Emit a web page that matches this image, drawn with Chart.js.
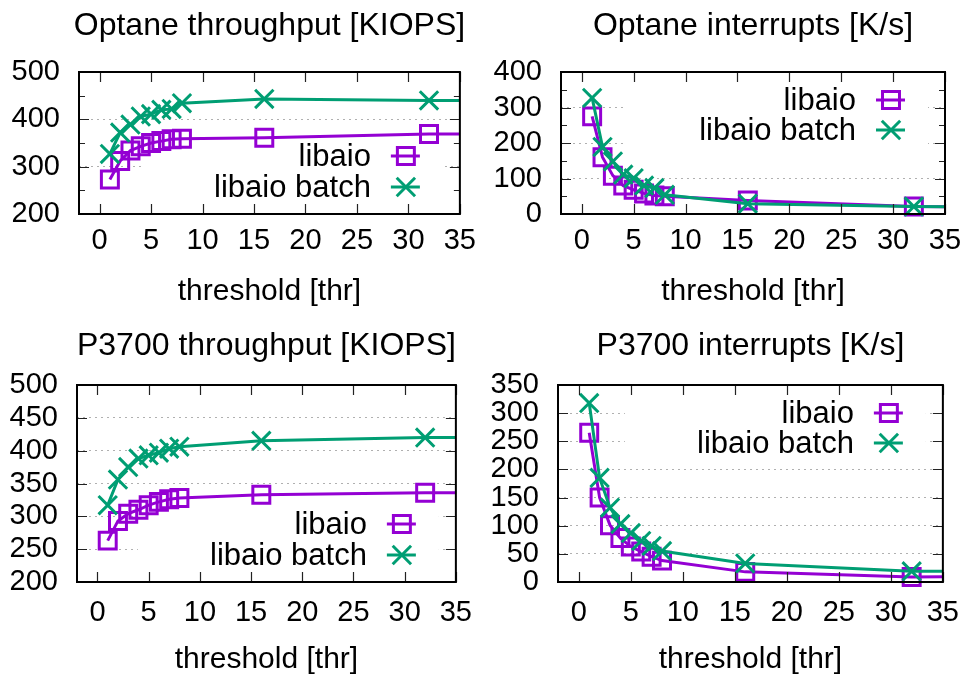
<!DOCTYPE html>
<html>
<head>
<meta charset="utf-8">
<script src="https://cdn.jsdelivr.net/npm/chart.js@4.4.1/dist/chart.umd.min.js"></script>
<style>
  html, body { margin: 0; padding: 0; background: #fff; overflow: hidden; }
  canvas { position: absolute; }
</style>
</head>
<body>
<canvas id="c1" width="486" height="320" style="left:0;top:0"></canvas>
<canvas id="c2" width="487" height="320" style="left:486px;top:0"></canvas>
<canvas id="c3" width="486" height="356" style="left:0;top:320px"></canvas>
<canvas id="c4" width="487" height="356" style="left:486px;top:320px"></canvas>
<script>
var thresholds = [1, 2, 3, 4, 5, 6, 7, 8, 16, 32, 64];
var seriesNames = ["libaio", "libaio batch"];

var optaneTputLibaio = [273, 312, 334, 343, 350, 354, 358, 359, 361, 369, 369];
var optaneTputBatch = [327, 372, 389, 406, 411, 420, 422, 434, 443, 440, 440];
var optaneIntLibaio = [275, 160, 108, 80, 68, 58, 52, 50, 38, 21, 18];
var optaneIntBatch = [327, 189, 148, 111, 101, 80, 73, 54, 29, 21, 18];
var p3700TputLibaio = [263, 293, 304, 310, 317, 322, 326, 328, 333, 336, 337];
var p3700TputBatch = [317, 356, 375, 388, 393, 397, 403, 406, 415, 420, 419];
var p3700IntLibaio = [265, 150, 101, 78, 63, 54, 45, 38, 18, 9, 11];
var p3700IntBatch = [318, 185, 132, 103, 87, 73, 64, 55, 33, 19, 18];

var purple = "#9400d3";
var green = "#009e73";
var fontFam = "'Liberation Sans', Arial, sans-serif";

// title centred over the plot area, like gnuplot does it
var titlePlugin = {
  id: "plotTitle",
  afterDraw(chart, args, opts) {
    var ctx = chart.ctx, a = chart.chartArea;
    ctx.save();
    ctx.fillStyle = "#000";
    ctx.font = "32px " + fontFam;
    ctx.textAlign = "center";
    ctx.textBaseline = "middle";
    ctx.fillText(opts.text, (a.left + a.right) / 2, opts.y);
    ctx.restore();
  }
};

// gnuplot style frame: border plus inward ticks on all four sides
var framePlugin = {
  id: "frame",
  afterDatasetsDraw(chart, args, opts) {
    var ctx = chart.ctx, a = chart.chartArea;
    var xs = chart.scales.x, ys = chart.scales.y;
    ctx.save();
    ctx.strokeStyle = "#222";
    ctx.lineWidth = 1.2;
    ctx.beginPath();
    xs.ticks.forEach(t => {
      var px = Math.round(xs.getPixelForValue(t.value)) + 0.5;
      ctx.moveTo(px, a.bottom); ctx.lineTo(px, a.bottom - 10);
      ctx.moveTo(px, a.top); ctx.lineTo(px, a.top + 10);
    });
    ys.ticks.forEach((t, i) => {
      var py = Math.round(ys.getPixelForValue(t.value)) + 0.5;
      ctx.moveTo(a.left, py); ctx.lineTo(a.left + 10, py);
      ctx.moveTo(a.right, py); ctx.lineTo(a.right - 10, py);
      if (opts.minor && i > 0) {
        var pm = Math.round(ys.getPixelForValue((t.value + ys.ticks[i - 1].value) / 2)) + 0.5;
        ctx.moveTo(a.left, pm); ctx.lineTo(a.left + 6, pm);
        ctx.moveTo(a.right, pm); ctx.lineTo(a.right - 6, pm);
      }
    });
    ctx.stroke();
    ctx.strokeStyle = "#000";
    ctx.lineWidth = 2;
    ctx.strokeRect(a.left, a.top, a.right - a.left, a.bottom - a.top);
    ctx.restore();
  }
};

function keyRows(chart, opts) {
  var a = chart.chartArea;
  if (opts.pos === "top") return [a.top + 28, a.top + 58];
  return [a.bottom - 58, a.bottom - 27];
}

function drawMarker(ctx, style, r, x, y) {
  ctx.beginPath();
  if (style === "rect") {
    var h = r / Math.SQRT2;
    ctx.rect(x - h, y - h, 2 * h, 2 * h);
  } else {
    var o = r * Math.SQRT1_2;
    ctx.moveTo(x - o, y - o); ctx.lineTo(x + o, y + o);
    ctx.moveTo(x + o, y - o); ctx.lineTo(x - o, y + o);
  }
  ctx.stroke();
}

// key box inside the plot, text on the left and sample on the right
var keyPlugin = {
  id: "key",
  beforeDatasetsDraw(chart, args, opts) {
    var a = chart.chartArea, rows = keyRows(chart, opts);
    var ctx = chart.ctx;
    ctx.save();
    ctx.fillStyle = "#fff";
    ctx.fillRect(a.right - 318, rows[0] - 16, 301, rows[1] - rows[0] + 32);
    ctx.restore();
  },
  afterDatasetsDraw(chart, args, opts) {
    var a = chart.chartArea, rows = keyRows(chart, opts);
    var ctx = chart.ctx;
    ctx.save();
    chart.data.datasets.forEach((ds, i) => {
      var y = rows[i];
      ctx.fillStyle = "#000";
      ctx.font = "31px " + fontFam;
      ctx.textAlign = "right";
      ctx.textBaseline = "middle";
      ctx.fillText(ds.label, a.right - 89, y + 1);
      ctx.strokeStyle = ds.borderColor;
      ctx.lineWidth = 3;
      ctx.beginPath();
      ctx.moveTo(a.right - 69, y); ctx.lineTo(a.right - 40, y);
      ctx.stroke();
      drawMarker(ctx, ds.pointStyle, ds.pointRadius, a.right - 54, y);
    });
    ctx.restore();
  }
};

function toPoints(vals) {
  return thresholds.map((t, i) => ({ x: t, y: vals[i] }));
}

function makeChart(id, p) {
  return new Chart(document.getElementById(id), {
    type: "scatter",
    data: {
      datasets: [
        {
          label: seriesNames[0], data: toPoints(p.a), showLine: true,
          borderColor: purple, backgroundColor: "rgba(0,0,0,0)", borderWidth: 3,
          pointStyle: "rect", pointRadius: 12, pointBorderWidth: 3,
          pointBorderColor: purple, pointBackgroundColor: "rgba(0,0,0,0)",
          order: 1, clip: { left: false, top: false, right: 0, bottom: false }
        },
        {
          label: seriesNames[1], data: toPoints(p.b), showLine: true,
          borderColor: green, backgroundColor: "rgba(0,0,0,0)", borderWidth: 3,
          pointStyle: "crossRot", pointRadius: 13, pointBorderWidth: 3,
          pointBorderColor: green, pointBackgroundColor: "rgba(0,0,0,0)",
          order: 0, clip: { left: false, top: false, right: 0, bottom: false }
        }
      ]
    },
    options: {
      responsive: false,
      animation: false,
      events: [],
      layout: { padding: { left: 0, right: p.padR, top: p.plotTop, bottom: 0 } },
      plugins: {
        legend: { display: false },
        tooltip: { enabled: false },
        title: { display: false },
        plotTitle: { text: p.title, y: p.titleY },
        frame: { minor: p.minor },
        key: { pos: p.keyPos }
      },
      scales: {
        x: {
          type: "linear", min: -2, max: 35,
          afterFit: s => { s.height = p.xH; },
          ticks: {
            stepSize: 5, includeBounds: false, color: "#000", padding: p.tickPad,
            font: { family: fontFam, size: 29, lineHeight: 1.2 }, maxRotation: 0
          },
          grid: { display: false, drawTicks: false },
          border: { display: false },
          title: {
            display: true, text: "threshold [thr]", color: "#000",
            font: { family: fontFam, size: 30, lineHeight: 1.1 },
            padding: { top: 0, bottom: p.xTitlePad }
          }
        },
        y: {
          min: p.yMin, max: p.yMax,
          afterFit: s => { s.width = p.yW; },
          ticks: {
            stepSize: p.yStep, color: "#000", padding: 19, autoSkip: false,
            font: { family: fontFam, size: 29, lineHeight: 0.6 }
          },
          grid: {
            drawTicks: false, lineWidth: 1,
            color: c => (c.tick && (c.tick.value === p.yMin || c.tick.value === p.yMax)) ? "rgba(0,0,0,0)" : "#b0b0b0"
          },
          border: { display: false, dash: [2, 4] }
        }
      }
    },
    plugins: [framePlugin, keyPlugin, titlePlugin]
  });
}

makeChart("c1", {
  title: "Optane throughput [KIOPS]", a: optaneTputLibaio, b: optaneTputBatch,
  yMin: 200, yMax: 500, yStep: 100, minor: true, keyPos: "bottom",
  yW: 79, padR: 23, plotTop: 72, titleY: 26, xH: 106, tickPad: 10, xTitlePad: 12
});
makeChart("c2", {
  title: "Optane interrupts [K/s]", a: optaneIntLibaio, b: optaneIntBatch,
  yMin: 0, yMax: 400, yStep: 100, minor: true, keyPos: "top",
  yW: 75, padR: 28, plotTop: 72, titleY: 26, xH: 106, tickPad: 10, xTitlePad: 12
});
makeChart("c3", {
  title: "P3700 throughput [KIOPS]", a: p3700TputLibaio, b: p3700TputBatch,
  yMin: 200, yMax: 500, yStep: 50, minor: false, keyPos: "bottom",
  yW: 77, padR: 20, plotTop: 65, titleY: 26, xH: 94, tickPad: 14, xTitlePad: 0
});
makeChart("c4", {
  title: "P3700 interrupts [K/s]", a: p3700IntLibaio, b: p3700IntBatch,
  yMin: 0, yMax: 350, yStep: 50, minor: false, keyPos: "top",
  yW: 72, padR: 26, plotTop: 65, titleY: 26, xH: 94, tickPad: 14, xTitlePad: 0
});
</script>
</body>
</html>
